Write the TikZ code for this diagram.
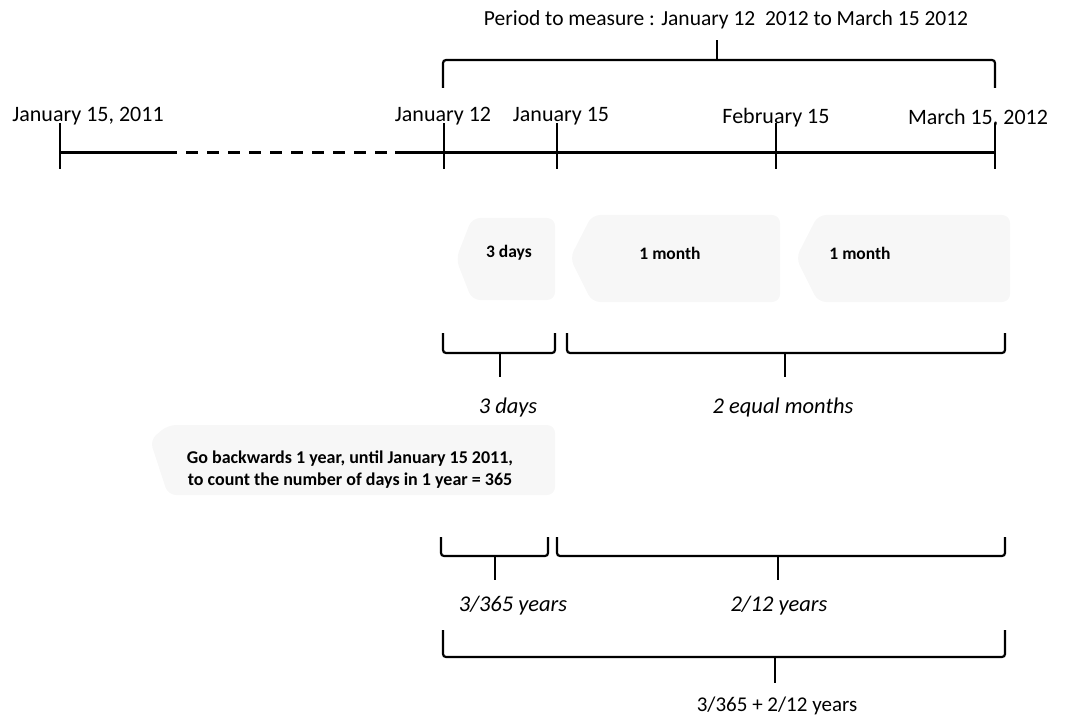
\documentclass[tikz,border=0pt]{standalone}
\usepackage{fontspec}
\setmainfont{Carlito}
\begin{document}
\begin{tikzpicture}[x=1pt,y=-1pt,
  lbl/.style={font=\fontsize{22}{26}\selectfont, inner sep=0pt},
  ital/.style={font=\fontsize{22.5}{26}\selectfont\itshape, inner sep=0pt},
  small/.style={font=\fontsize{18}{22}\selectfont\bfseries, inner sep=0pt, align=center},
  seg/.style={font=\fontsize{17.5}{22}\selectfont\bfseries, inner sep=0pt},
  axis/.style={line width=3pt},
  tick/.style={line width=2.6pt},
  brace/.style={line width=2.2pt, rounded corners=3pt},
  ghost/.style={fill=black!3, draw=none, rounded corners=8pt}]
\useasboundingbox (0,0) rectangle (1070,719);

% faint background shapes
\fill[ghost] (472,218) -- (555,218) -- (555,300) -- (472,300) -- (456,259) -- cycle;
\fill[ghost] (592,215) -- (780,215) -- (780,302) -- (592,302) -- (570,258) -- cycle;
\fill[ghost] (818,215) -- (1010,215) -- (1010,302) -- (818,302) -- (796,258) -- cycle;
\fill[ghost] (168,425) -- (555,425) -- (555,495) -- (168,495) -- (150,440) -- cycle;

% timeline coordinates
\coordinate (t0) at (60,153);
\coordinate (d1) at (165,153);
\coordinate (d2) at (395,153);
\coordinate (t1) at (444,153);
\coordinate (t2) at (557,153);
\coordinate (t3) at (776,153);
\coordinate (t4) at (995,153);

\draw[axis] (t0) -- (d1);
\draw[axis, dash pattern=on 12pt off 9pt] (d1) -- (d2);
\draw[axis] (d2) -- (t4);
\foreach \t in {t0,t1,t2,t3,t4}
  \draw[tick] ([yshift=-16pt]\t) -- ([yshift=30pt]\t);

% date labels
\node[lbl] (l0) at (88,116) {January 15, 2011};
\node[lbl] (l1) at (443,116) {January 12};
\node[lbl] (l2) at (561,116) {January 15};
\node[lbl] (l3) at (776,118) {February 15};
\node[lbl] (l4) at (978,118) {March 15, 2012};

% top brace
\node[lbl, font=\fontsize{21.5}{26}\selectfont] (title) at (726,20) {Period to measure : January 12\ \ 2012 to March 15 2012};
\coordinate (tb) at (717,40);
\draw[brace] (443,88) -- (443,60) -- (717,60) -- (995,60) -- (995,88);
\draw[brace] (717,60) -- (tb);

% segment labels
\node[seg] (s1) at (509,253) {3 days};
\node[seg] (s2) at (670,253) {1 month};
\node[seg] (s3) at (860,253) {1 month};

% row 1 braces
\coordinate (b1) at (500,377);
\coordinate (b2) at (785,377);
\draw[brace] (443,333) -- (443,353) -- (555,353) -- (555,333);
\draw[brace] (500,353) -- (b1);
\draw[brace] (567,333) -- (567,353) -- (1005,353) -- (1005,333);
\draw[brace] (785,353) -- (b2);
\node[ital] (i1) at (508,407) {3 days};
\node[ital] (i2) at (783,407) {2 equal months};

% note
\node[small] (note) at (350,470) {Go backwards 1 year, until January 15 2011,\\ to count the number of days in 1 year = 365};

% row 2 braces
\coordinate (c1) at (495,580);
\coordinate (c2) at (778,580);
\draw[brace] (441,537) -- (441,556) -- (548,556) -- (548,537);
\draw[brace] (495,556) -- (c1);
\draw[brace] (557,537) -- (557,556) -- (1005,556) -- (1005,537);
\draw[brace] (778,556) -- (c2);
\node[ital] (j1) at (513,606) {3/365 years};
\node[ital] (j2) at (779,606) {2/12 years};

% bottom brace
\coordinate (e1) at (775,683);
\draw[brace] (443,630) -- (443,657) -- (1005,657) -- (1005,630);
\draw[brace] (775,657) -- (e1);
\node[lbl, font=\fontsize{21}{26}\selectfont] (total) at (777,706) {3/365 + 2/12 years};
\end{tikzpicture}
\end{document}
